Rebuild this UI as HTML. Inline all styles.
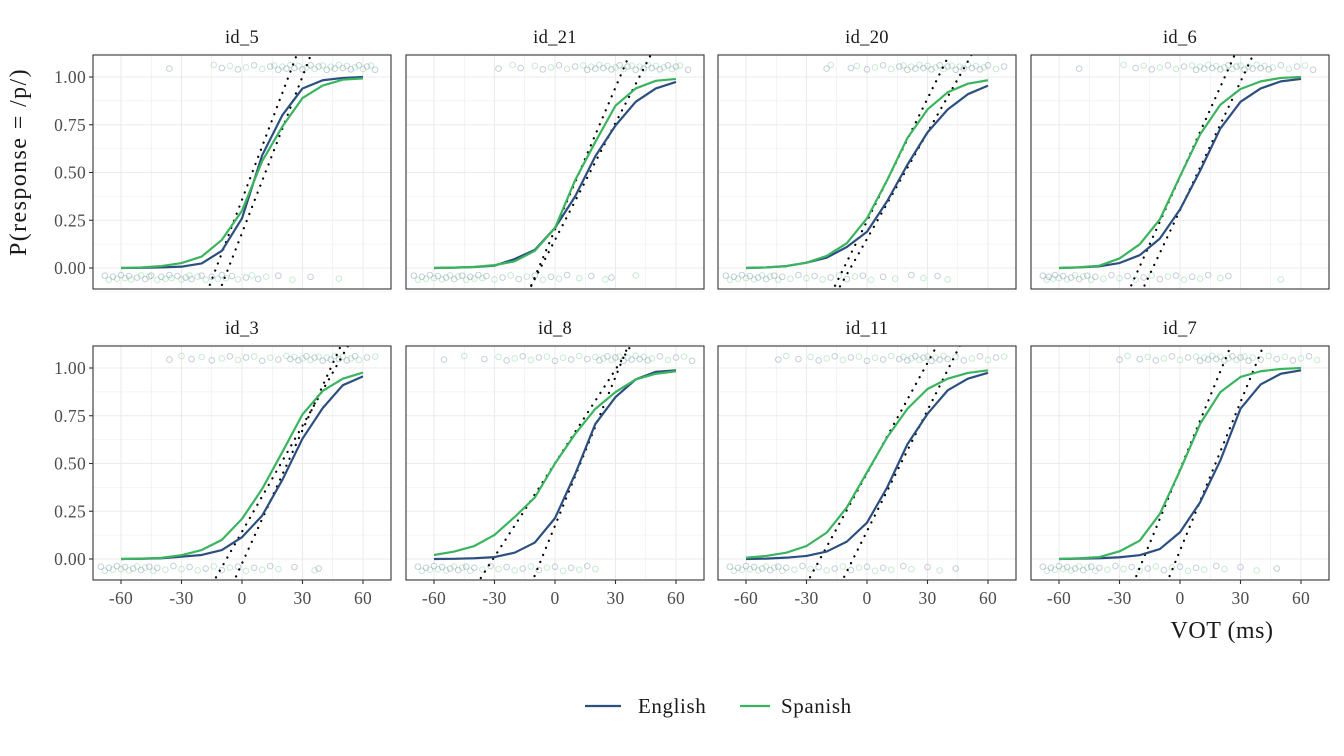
<!DOCTYPE html>
<html><head><meta charset="utf-8">
<style>
html,body{margin:0;padding:0;background:#fff;}
svg{display:block;font-family:"Liberation Serif",serif;}
</style></head>
<body>
<svg id="chart" width="1344" height="756" viewBox="0 0 1344 756" xmlns="http://www.w3.org/2000/svg">
<g id="panels"></g>
<text transform="translate(26,162) rotate(-90)" text-anchor="middle" font-size="24" letter-spacing="1.4" fill="#1a1a1a">P(response = /p/)</text>
<text x="1222" y="638" text-anchor="middle" font-size="24" letter-spacing="0.5" fill="#1a1a1a">VOT (ms)</text>
<g>
<line x1="585" y1="706" x2="621" y2="706" stroke="#2d4f7f" stroke-width="2.2"/>
<text x="638" y="713" font-size="21" letter-spacing="0.6" fill="#1a1a1a">English</text>
<line x1="740" y1="706" x2="770" y2="706" stroke="#3bb45f" stroke-width="2.2"/>
<text x="781" y="713" font-size="21" letter-spacing="0.6" fill="#1a1a1a">Spanish</text>
</g>
</svg>
<script>
const panelIds = ["id_5","id_21","id_20","id_6","id_3","id_8","id_11","id_7"];
const vot = [-60,-50,-40,-30,-20,-10,0,10,20,30,40,50,60];
const english = [
 [0,0.001,0.003,0.007,0.024,0.09,0.26,0.59,0.8,0.94,0.983,0.995,1.0],
 [0,0.002,0.005,0.012,0.047,0.095,0.21,0.375,0.585,0.746,0.87,0.94,0.974],
 [0,0.003,0.01,0.028,0.054,0.11,0.19,0.35,0.54,0.71,0.83,0.91,0.955],
 [0,0.003,0.009,0.026,0.067,0.154,0.306,0.51,0.73,0.87,0.94,0.977,0.99],
 [0,0.001,0.004,0.012,0.021,0.047,0.114,0.227,0.414,0.63,0.79,0.91,0.956],
 [0,0.001,0.004,0.01,0.033,0.086,0.214,0.445,0.707,0.848,0.94,0.98,0.988],
 [0,0.002,0.007,0.016,0.039,0.091,0.19,0.375,0.6,0.76,0.883,0.944,0.975],
 [0,0.002,0.004,0.009,0.02,0.052,0.14,0.297,0.516,0.787,0.914,0.97,0.988]
];
const spanish = [
 [0,0.003,0.01,0.026,0.06,0.147,0.3,0.56,0.74,0.89,0.955,0.986,0.993],
 [0,0.002,0.006,0.015,0.035,0.09,0.21,0.46,0.66,0.85,0.94,0.98,0.99],
 [0,0.003,0.01,0.028,0.063,0.13,0.26,0.46,0.68,0.83,0.92,0.965,0.983],
 [0,0.004,0.012,0.05,0.124,0.254,0.48,0.7,0.855,0.937,0.977,0.995,1.0],
 [0,0.002,0.006,0.02,0.047,0.1,0.21,0.367,0.56,0.757,0.88,0.944,0.976],
 [0.021,0.039,0.068,0.126,0.22,0.322,0.5,0.655,0.786,0.874,0.94,0.97,0.983],
 [0.007,0.016,0.033,0.068,0.138,0.27,0.454,0.637,0.786,0.89,0.944,0.974,0.988],
 [0,0.004,0.01,0.04,0.096,0.236,0.463,0.708,0.874,0.953,0.983,0.995,1.0]
];
// dotted tangent lines: VOT where line crosses p=0 and p=1
const tangentA = [[-12.8,23],[-8.1,32.2],[-11.5,35.3],[-20.3,22.2],[-7.7,46.3],[-30.7,30.5],[-23.3,28.6],[-18.2,20.7]];
const tangentB = [[-6.7,29.9],[-7.2,41.8],[-8.2,45.6],[-13.5,31.1],[1.0,44],[-6.7,31.8],[-6.9,40.5],[-1.7,36.9]];
// raw responses (VOT of jittered trials) at p=0 and p=1
const zeroResp = [
 [-68,-66,-64,-62,-60,-58,-56,-55,-52,-50,-48,-46,-45,-42,-40,-38,-36,-35,-32,-30,-28,-26,-25,-22,-20,-18,-15,-12,-10,-8,-5,-2,2,5,8,12,18,25,34,48],
 [-70,-68,-66,-64,-62,-60,-58,-56,-54,-52,-50,-48,-46,-44,-42,-40,-38,-36,-34,-30,-26,-22,-18,-14,-10,-6,-2,2,6,12,18,25,28,40],
 [-70,-68,-66,-64,-62,-60,-58,-56,-54,-52,-50,-48,-46,-44,-42,-38,-34,-30,-26,-22,-18,-14,-10,-6,-2,2,8,14,22,28,35,40],
 [-68,-66,-65,-63,-62,-60,-58,-56,-54,-52,-50,-48,-46,-44,-42,-38,-34,-30,-26,-22,-18,-14,-10,-6,-2,2,6,10,14,20,24,50],
 [-70,-68,-66,-64,-62,-60,-58,-56,-54,-52,-50,-48,-46,-44,-42,-38,-34,-30,-26,-22,-18,-14,-10,-6,-2,2,6,10,14,18,26,36,38],
 [-68,-66,-64,-62,-60,-58,-56,-54,-52,-50,-48,-46,-44,-42,-40,-36,-32,-28,-24,-20,-16,-12,-8,-4,0,4,8,12,16,20],
 [-68,-66,-64,-62,-60,-58,-56,-54,-52,-50,-48,-46,-44,-42,-40,-36,-32,-28,-24,-20,-16,-12,-8,-4,0,4,8,12,18,22,30,36,44],
 [-68,-66,-64,-62,-60,-58,-56,-54,-52,-50,-48,-46,-44,-42,-40,-36,-32,-28,-24,-20,-16,-12,-8,-4,0,4,8,12,18,22,30,38,48]
];
const oneResp = [
 [-36,-14,-10,-6,-2,2,6,10,14,16,18,20,22,24,26,28,30,32,34,36,38,40,42,44,46,48,50,52,54,56,58,60,62,64,66],
 [-28,-21,-17,-10,-6,-2,2,6,10,14,16,18,20,22,24,26,28,30,32,34,36,38,40,42,44,46,48,50,52,54,56,58,60,62,66],
 [-20,-18,-8,-5,0,4,8,12,16,18,20,22,24,26,28,30,32,34,36,38,40,42,44,46,48,50,52,54,56,58,60,64,68],
 [-50,-28,-22,-18,-14,-10,-6,-2,2,6,8,10,12,14,16,18,20,22,24,26,28,30,32,34,36,38,40,42,44,46,50,54,58,62,66],
 [-36,-30,-25,-20,-15,-10,-6,-2,2,6,10,14,18,22,24,26,28,30,32,34,36,38,40,42,44,46,48,50,52,54,56,58,62,66],
 [-55,-45,-35,-28,-24,-20,-16,-12,-8,-4,0,4,8,12,16,20,22,24,26,28,30,32,34,36,38,40,42,44,46,48,52,56,60,64,68],
 [-44,-40,-34,-28,-24,-20,-16,-12,-8,-4,0,4,8,12,16,18,20,22,24,26,28,30,32,34,36,38,40,44,48,52,56,60,64,68],
 [-30,-26,-20,-16,-12,-8,-4,0,4,8,10,12,14,16,18,20,22,24,26,28,30,32,34,36,40,44,48,52,56,60,64,68]
];
const xTicks = [-60,-30,0,30,60];
const yTicks = [0,0.25,0.5,0.75,1];
const yTickLabels = ["0.00","0.25","0.50","0.75","1.00"];
const jit = [0.01,-0.012,0.004,-0.006,0.013,-0.003,0.008,-0.01,0.0,0.011,-0.008,0.005];

const NS = "http://www.w3.org/2000/svg";
const root = document.getElementById("panels");
const colL = [93,406,718,1031], rowT = [55,346], PW = 298, PH = 234;
const BLUE = "#2d4f7f", GREEN = "#3bb45f";
function mk(tag, attrs, parent){const e=document.createElementNS(NS,tag);for(const k in attrs)e.setAttribute(k,attrs[k]);parent.appendChild(e);return e;}

panelIds.forEach((pid, i) => {
  const r = Math.floor(i/4), c = i%4;
  const L = colL[c], T = rowT[r];
  const xs = v => L + 28 + (v + 60) * (242/120);
  const ys = p => T + 22 + (1 - p) * 191;
  const g = mk("g", {}, root);
  
  
  const clipId = "clip" + i;
  const cp = mk("clipPath", {id: clipId}, g);
  mk("rect", {x: L, y: T, width: PW, height: PH}, cp);
  for (let v = -60; v <= 60; v += 15) {
    const gl = mk("line", {x1: xs(v), x2: xs(v), y1: T, y2: T+PH, stroke: "#ebebeb", "stroke-width": v%30===0?1.1:0.6}, g);
    
    
  }
  for (let p = -0.125; p <= 1.126; p += 0.125) {
    const major = Math.abs((p*4)-Math.round(p*4))<1e-6;
    const gl = mk("line", {x1: L, x2: L+PW, y1: ys(p), y2: ys(p), stroke: "#ebebeb", "stroke-width": major?1.1:0.6}, g);
    
    
  }
  const inner = mk("g", {"clip-path": "url(#"+clipId+")"}, g);
  zeroResp[i].forEach((v, k) => {
    const pt = mk("circle", {cx: xs(v), cy: ys(-0.05 + jit[k%jit.length]), r: 2.8, fill: "none", stroke: k%2?GREEN:BLUE, "stroke-opacity": 0.28, "stroke-width": 1}, inner);
    
    
  });
  oneResp[i].forEach((v, k) => {
    const pt = mk("circle", {cx: xs(v), cy: ys(1.05 + jit[(k+3)%jit.length]), r: 2.8, fill: "none", stroke: k%2?GREEN:BLUE, "stroke-opacity": 0.28, "stroke-width": 1}, inner);
    
    
  });
  [tangentA[i], tangentB[i]].forEach((t, k) => {
    const slope = 1/(t[1]-t[0]);
    const va = t[0] + (-0.2)/slope, vb = t[0] + 1.2/slope;
    const ln = mk("line", {x1: xs(va), y1: ys(-0.2), x2: xs(vb), y2: ys(1.2), stroke: "#000", "stroke-width": 2.2, "stroke-dasharray": "0.1 7.5", "stroke-linecap": "round"}, inner);
    
    
  });
  [[english[i], BLUE, 'english-curve'], [spanish[i], GREEN, 'spanish-curve']].forEach(([arr, col, nm]) => {
    const d = arr.map((p, k) => (k?"L":"M") + xs(vot[k]).toFixed(2) + "," + ys(p).toFixed(2)).join(" ");
    const pa = mk("path", {d: d, fill: "none", stroke: col, "stroke-width": 2.2, "stroke-linejoin": "round"}, inner);
    
    
  });
  const bd = mk("rect", {x: L, y: T, width: PW, height: PH, fill: "none", stroke: "#333", "stroke-width": 1.1}, g);
  
  
  const tt = mk("text", {x: L + PW/2, y: T - 12, "text-anchor": "middle", "font-size": 18.5, "letter-spacing": 0.3, fill: "#1a1a1a"}, g);
  tt.textContent = pid;
  
  
  if (c === 0) {
    yTicks.forEach((p, k) => {
      const tk = mk("line", {x1: L-4, x2: L, y1: ys(p), y2: ys(p), stroke: "#333", "stroke-width": 1.1}, g);
      
      
      const tl = mk("text", {x: L-7, y: ys(p)+6, "text-anchor": "end", "font-size": 17.5, "letter-spacing": 0.3, fill: "#4d4d4d"}, g);
      tl.textContent = yTickLabels[k];
      
      
    });
  }
  if (r === 1) {
    xTicks.forEach(v => {
      const tk = mk("line", {x1: xs(v), x2: xs(v), y1: T+PH, y2: T+PH+4, stroke: "#333", "stroke-width": 1.1}, g);
      
      
      const tl = mk("text", {x: xs(v), y: T+PH+24, "text-anchor": "middle", "font-size": 17.5, "letter-spacing": 0.3, fill: "#4d4d4d"}, g);
      tl.textContent = String(v);
      
      
    });
  }
});
</script>
</body></html>
